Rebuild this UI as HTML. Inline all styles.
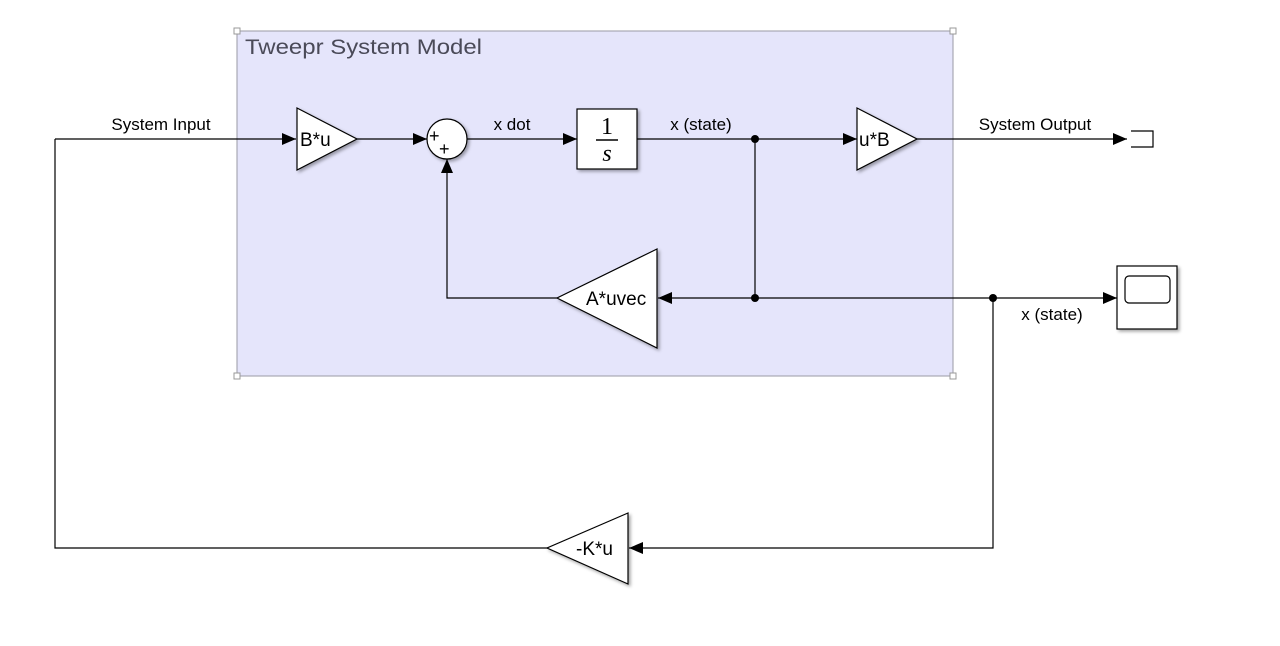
<!DOCTYPE html>
<html><head><meta charset="utf-8"><style>
html,body{margin:0;padding:0;background:#fff;width:1280px;height:646px;overflow:hidden}
text{font-family:"Liberation Sans",sans-serif;font-size:17px;fill:#000}
</style></head><body>
<svg width="1280" height="646" viewBox="0 0 1280 646">
<defs>
<marker id="ar" markerWidth="14" markerHeight="12" refX="14" refY="6" orient="auto" markerUnits="userSpaceOnUse"><path d="M0,0 L14,6 L0,12 Z" fill="#000"/></marker>
<filter id="sh" x="-20%" y="-20%" width="150%" height="150%"><feDropShadow dx="2" dy="2" stdDeviation="1.5" flood-color="#000" flood-opacity="0.35"/></filter>
</defs>
<g>
<rect x="237" y="31" width="716" height="345" fill="#e5e5fb" stroke="#9a9aa4" stroke-width="1"/>
<rect x="234" y="28" width="6" height="6" fill="#fff" stroke="#999"/>
<rect x="950" y="28" width="6" height="6" fill="#fff" stroke="#999"/>
<rect x="234" y="373" width="6" height="6" fill="#fff" stroke="#999"/>
<rect x="950" y="373" width="6" height="6" fill="#fff" stroke="#999"/>
<text x="245" y="54" style="font-size:21.5px;fill:#4a4a58" textLength="237" lengthAdjust="spacingAndGlyphs">Tweepr System Model</text>
</g>
<g fill="none" stroke="#000" stroke-width="1.2">
<path d="M55,139 L296,139" marker-end="url(#ar)"/>
<path d="M628,548 L55,548 L55,139"/>
<path d="M993,298 L993,548 L629,548" marker-end="url(#ar)"/>
<path d="M357,139 L427,139" marker-end="url(#ar)"/>
<path d="M467,139 L577,139" marker-end="url(#ar)"/>
<path d="M637,139 L857,139" marker-end="url(#ar)"/>
<path d="M917,139 L1127,139" marker-end="url(#ar)"/>
<path d="M755,139 L755,298"/>
<path d="M755,298 L658,298" marker-end="url(#ar)"/>
<path d="M557,298 L447,298 L447,159" marker-end="url(#ar)"/>
<path d="M755,298 L1117,298" marker-end="url(#ar)"/>
</g>
<circle cx="755" cy="139" r="4" fill="#000"/>
<circle cx="755" cy="298" r="4" fill="#000"/>
<circle cx="993" cy="298" r="4" fill="#000"/>
<g><polygon points="297,108 357,139 297,170" fill="#fff" stroke="#000" stroke-width="1.2" filter="url(#sh)"/><text x="300" y="146" style="font-size:19px">B*u</text></g>
<g><circle cx="447" cy="139" r="20" fill="#fff" stroke="#000" stroke-width="1.2" filter="url(#sh)"/><text x="429" y="142" style="font-size:18px">+</text><text x="439" y="155" style="font-size:18px">+</text></g>
<g><rect x="577" y="109" width="60" height="60" fill="#fff" stroke="#000" stroke-width="1.2" filter="url(#sh)"/><text x="607" y="134" text-anchor="middle" style="font-family:'Liberation Serif',serif;font-size:24px">1</text><line x1="596" y1="140" x2="618" y2="140" stroke="#000" stroke-width="1.5"/><text x="607" y="161" text-anchor="middle" style="font-family:'Liberation Serif',serif;font-size:24px;font-style:italic">s</text></g>
<g><polygon points="857,108 917,139 857,170" fill="#fff" stroke="#000" stroke-width="1.2" filter="url(#sh)"/><text x="859" y="146" style="font-size:19px">u*B</text></g>
<g><polygon points="657,249 557,298 657,348" fill="#fff" stroke="#000" stroke-width="1.2" filter="url(#sh)"/><text x="586" y="305" style="font-size:19px">A*uvec</text></g>
<g><polygon points="628,513 547,548 628,584" fill="#fff" stroke="#000" stroke-width="1.2" filter="url(#sh)"/><text x="576" y="555" style="font-size:19px">-K*u</text></g>
<g fill="none" stroke="#000" stroke-width="1.2"><path d="M1131,131 L1153,131 L1153,147 L1131,147"/></g>
<g><rect x="1117" y="266" width="60" height="63" fill="#fff" stroke="#000" stroke-width="1.2" filter="url(#sh)"/><rect x="1125" y="276" width="45" height="27" rx="4" fill="#fff" stroke="#000" stroke-width="1.2"/></g>
<text x="161" y="130" text-anchor="middle">System Input</text>
<text x="512" y="130" text-anchor="middle">x dot</text>
<text x="701" y="130" text-anchor="middle">x (state)</text>
<text x="1035" y="130" text-anchor="middle">System Output</text>
<text x="1052" y="320" text-anchor="middle">x (state)</text>
</svg>
</body></html>
